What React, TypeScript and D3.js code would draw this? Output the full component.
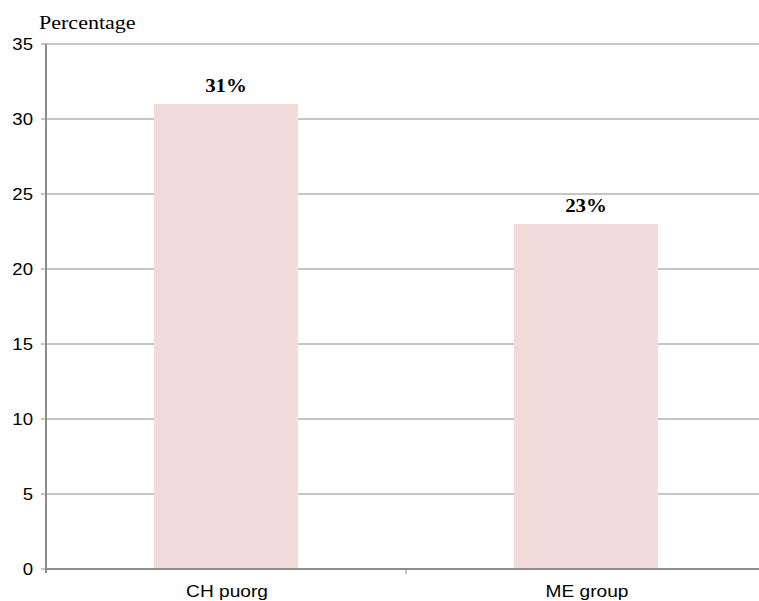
import React from "react";
import * as d3 from "d3";

const categories = ["CH puorg", "ME group"];
const values = [31, 23];
const valueLabels = ["31%", "23%"];
const yTicks = [0, 5, 10, 15, 20, 25, 30, 35];

const W = 759;
const H = 601;
const left = 46;
const right = 766;
const top = 44;
const bottom = 569;
const SX = 1.16;

function T(props: { x: number; y: number; anchor?: string; size: number; family: string; weight?: string; dy?: string; children: React.ReactNode }) {
  return (
    <text
      transform={`translate(${props.x},${props.y}) scale(${SX},1)`}
      dy={props.dy}
      textAnchor={props.anchor || "start"}
      fontFamily={props.family}
      fontSize={props.size}
      fontWeight={props.weight || "normal"}
      fill="#000"
    >
      {props.children}
    </text>
  );
}

export default function App() {
  const x = d3.scaleBand<string>().domain(categories).range([left, right]).paddingInner(0).paddingOuter(0);
  const y = d3.scaleLinear().domain([0, 35]).range([bottom, top]);
  const bw = x.bandwidth() * 0.4;
  const grid = "#8c8c8c";
  const sans = "Liberation Sans, Arial";
  const serif = "Liberation Serif, Times New Roman";
  return (
    <svg width={W} height={H} style={{ position: "absolute", left: 0, top: 0 }}>
      <rect x={0} y={0} width={W} height={H} fill="#fff" />
      {yTicks.map((t) => (
        <g key={t}>
          {t > 0 && <line x1={left} x2={W} y1={y(t)} y2={y(t)} stroke={grid} strokeWidth={1} />}
          <line x1={left - 5} x2={left} y1={y(t)} y2={y(t)} stroke={grid} strokeWidth={1} />
          <T x={33} y={y(t)} dy="0.36em" anchor="end" size={16} family={sans}>
            {t}
          </T>
        </g>
      ))}
      {categories.map((c, i) => {
        const cx = (x(c) as number) + x.bandwidth() / 2;
        return (
          <g key={c}>
            <rect x={cx - bw / 2} y={y(values[i])} width={bw} height={bottom - y(values[i])} fill="#f2dcdb" />
            <T x={cx} y={y(values[i]) - 12} anchor="middle" size={18} family={serif} weight="bold">
              {valueLabels[i]}
            </T>
            <T x={cx + 1} y={597} anchor="middle" size={16.5} family={sans}>
              {c}
            </T>
          </g>
        );
      })}
      <line x1={left} x2={W} y1={bottom} y2={bottom} stroke={grid} strokeWidth={2} />
      <line x1={left} x2={left} y1={top} y2={bottom + 4} stroke={grid} strokeWidth={2} />
      <line x1={right - x.bandwidth()} x2={right - x.bandwidth()} y1={bottom} y2={bottom + 5} stroke={grid} strokeWidth={1} />
      <T x={39} y={29} size={19} family={serif}>
        Percentage
      </T>
    </svg>
  );
}
